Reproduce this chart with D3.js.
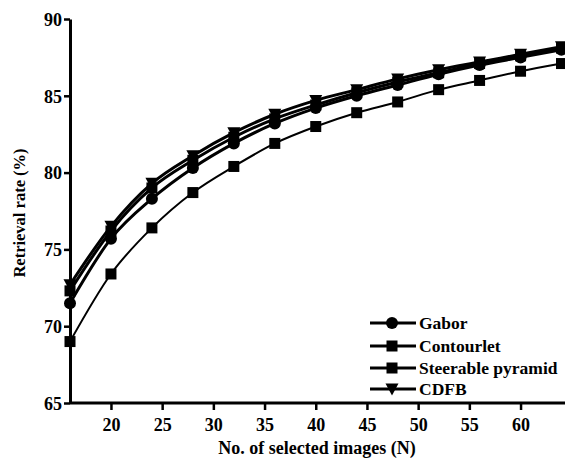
<!DOCTYPE html>
<html><head><meta charset="utf-8">
<script src="https://cdn.jsdelivr.net/npm/d3@7"></script>
<style>body{margin:0;background:#fff}</style>
</head><body><svg id="c" width="565" height="461"></svg>
<script>
const xValues = [16,20,24,28,32,36,40,44,48,52,56,60,64];
const gabor      = [71.5,75.7,78.3,80.3,81.9,83.2,84.2,85.0,85.7,86.4,87.0,87.5,88.0];
const contourlet = [69.0,73.4,76.4,78.7,80.4,81.9,83.0,83.9,84.6,85.4,86.0,86.6,87.1];
const steerable  = [72.3,76.2,79.0,80.8,82.3,83.5,84.4,85.2,85.9,86.5,87.1,87.6,88.1];
const cdfb       = [72.7,76.5,79.3,81.1,82.6,83.8,84.7,85.4,86.1,86.7,87.2,87.7,88.2];
const seriesNames = ["Gabor","Contourlet","Steerable pyramid","CDFB"];
const seriesData = [gabor, contourlet, steerable, cdfb];
const seriesMarkers = ["circle","square","square","triangle"];
const xTicks = [20,25,30,35,40,45,50,55,60];
const yTicks = [65,70,75,80,85,90];

const FONT = "Liberation Serif";
const svg = d3.select("#c");
const x = d3.scaleLinear().domain([16,64]).range([70,561.5]);
const y = d3.scaleLinear().domain([65,90]).range([403,19]);

function styleText(sel, size, bold){
  sel.attr("font-family", FONT).attr("font-size", size).attr("font-weight", bold ? "bold" : "normal").attr("fill","#000");
}

// axes
const gx = svg.append("g").attr("transform","translate(0,403)")
  .call(d3.axisBottom(x).tickValues(xTicks).tickSize(7).tickSizeOuter(0).tickPadding(8));
gx.attr("font-family", FONT);
gx.select(".domain").remove();
gx.append("line").attr("x1",70).attr("x2",565).attr("stroke","#000").attr("stroke-width",3);
gx.selectAll(".tick line").attr("stroke-width",2.5);
styleText(gx.selectAll(".tick text"), 18, true);

const gy = svg.append("g").attr("transform","translate(70,0)")
  .call(d3.axisLeft(y).tickValues(yTicks).tickSize(6).tickSizeOuter(0).tickPadding(2));
gy.attr("font-family", FONT);
gy.select(".domain").attr("stroke-width",3);
gy.selectAll(".tick line").attr("stroke-width",2.5);
styleText(gy.selectAll(".tick text").attr("dy","0.35em"), 18, true);

styleText(svg.append("text").attr("x",317).attr("y",454).attr("text-anchor","middle")
  .text("No. of selected images (N)"), 18, true);
styleText(svg.append("text").attr("transform","translate(25,213) rotate(-90)").attr("text-anchor","middle")
  .text("Retrieval rate (%)"), 16.5, true);

function marker(g, type, cx, cy){
  if(type==="circle") g.append("circle").attr("cx",cx).attr("cy",cy).attr("r",6);
  else if(type==="square") g.append("rect").attr("x",cx-5.5).attr("y",cy-5.5).attr("width",11).attr("height",11);
  else g.append("path").attr("d",`M${cx-6.5},${cy-5.5}L${cx+6.5},${cy-5.5}L${cx},${cy+6.5}Z`);
}

const line = d3.line().x((d,i)=>x(xValues[i])).y(d=>y(d)).curve(d3.curveMonotoneX);
const order = [1,0,2,3];
order.forEach(k=>{
  const g = svg.append("g");
  g.append("path").attr("d",line(seriesData[k])).attr("fill","none").attr("stroke","#000")
    .attr("stroke-width", k===1 ? 2 : 3);
  seriesData[k].forEach((v,i)=>marker(g, seriesMarkers[k], x(xValues[i]), y(v)));
});

// legend
const legY = [323,346,368,389];
seriesNames.forEach((n,k)=>{
  const g = svg.append("g");
  g.append("line").attr("x1",370).attr("x2",416).attr("y1",legY[k]).attr("y2",legY[k])
    .attr("stroke","#000").attr("stroke-width",3);
  marker(g, seriesMarkers[k], 392, legY[k]);
  styleText(g.append("text").attr("x",419).attr("y",legY[k]).attr("dy","0.35em").text(n), 17.5, true);
});
</script></body></html>
